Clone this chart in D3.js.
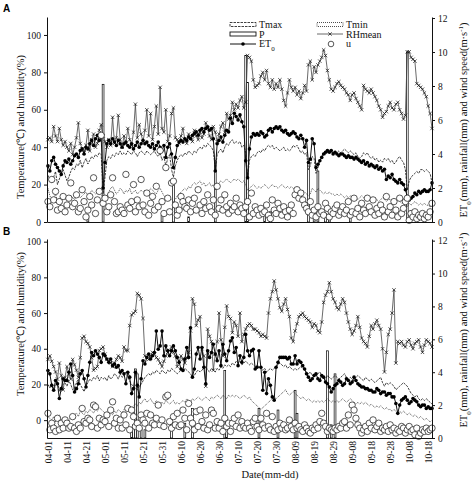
<!DOCTYPE html>
<html>
<head>
<meta charset="utf-8">
<script src="https://cdn.jsdelivr.net/npm/d3@7"></script>
<style>
  body { margin: 0; background: #fff; }
  svg { display: block; font-family: "Liberation Serif", "Times New Roman", serif; }
</style>
</head>
<body>
<svg id="chart" width="474" height="482"></svg>
<script>
// date ticks, every 10 days from 04-01 (day 0) to 10-18 (day 200)
var tickLabels = ["04-01", "04-11", "04-21", "05-01", "05-11", "05-21", "05-31", "06-10",
  "06-20", "06-30", "07-10", "07-20", "07-30", "08-09", "08-19", "08-29", "09-08",
  "09-18", "09-28", "10-08", "10-18"];
var tickDays = [0, 10, 20, 30, 40, 50, 60, 70, 80, 90, 100, 110, 120, 130, 140, 150,
  160, 170, 180, 190, 200];

// ---- panel A ----
var rhA = [44,45,43,51,46,43,50,44,41,43, 40,38,42,36,40,45,53,42,39,37,
  41,49,38,44,47,40,42,49,52,46, 43,40,44,41,56,42,45,57,44,40,
  46,42,50,44,41,48,63,45,52,47, 43,49,60,46,58,44,51,62,47,72,
  50,48,60,43,46,58,61,45,44,42, 46,50,44,42,47,45,43,49,46,44,
  48,45,47,53,50,46,44,51,48,43, 47,51,53,48,58,55,57,64,60,63,
  61,65,67,61,64,89,88,86,76,72, 73,74,78,80,76,81,74,72,76,71,
  74,72,76,71,65,62,69,76,72,70, 72,68,70,66,69,73,70,84,86,76,
  83,80,84,86,88,92,89,81,76,71, 70,72,74,75,73,72,71,69,68,65,
  68,69,66,64,62,60,73,71,70,69, 71,69,67,65,62,60,56,58,59,62,
  64,61,60,63,64,60,58,55,57,91, 91,88,87,86,74,73,72,71,69,67,
  62,58,50];
var et0A = [3.3,3.0,3.6,3.8,3.4,3.2,3.0,2.8,3.3,3.6, 3.5,3.7,3.4,3.6,3.9,4.0,3.8,4.2,4.3,4.0,
  4.4,4.3,4.6,4.8,4.5,4.9,5.1,4.8,5.0,2.0, 3.5,4.6,4.8,4.6,4.9,4.7,4.5,4.8,4.6,4.4,
  4.6,4.7,4.5,4.4,4.6,4.3,4.5,4.7,4.4,4.6, 4.8,4.6,4.7,4.5,4.4,4.6,4.3,4.5,4.7,4.4,
  4.2,4.5,3.8,4.4,4.6,4.0,3.2,3.8,4.5,4.7, 4.8,4.7,4.9,4.8,5.0,4.9,5.1,5.2,5.3,5.1,
  5.4,5.5,5.3,5.5,5.6,5.4,5.5,4.9,3.0,4.6, 4.8,5.0,4.7,5.1,5.4,5.3,6.1,5.8,6.4,6.2,
  6.0,6.3,5.9,5.6,3.6,2.6,4.3,5.0,5.2,5.1, 5.2,5.1,5.3,5.2,5.0,5.1,5.4,5.5,5.3,5.5,
  5.6,5.5,5.6,5.4,5.3,5.4,5.2,5.1,5.2,5.3, 5.2,5.0,4.9,5.1,4.9,4.4,4.8,3.5,3.7,4.9,
  4.6,3.2,3.4,3.6,3.8,4.0,4.1,4.2,4.1,4.2, 4.0,4.1,4.0,3.9,4.0,4.0,3.9,3.8,3.9,3.8,
  3.8,3.7,3.8,3.7,3.6,3.5,3.6,3.4,3.5,3.3, 3.4,3.3,3.2,3.3,3.1,3.2,3.0,3.1,2.5,2.7,
  2.6,2.8,2.5,2.4,2.3,2.5,2.3,2.2,1.9,1.5, 1.3,1.4,1.5,1.7,1.6,1.8,1.7,1.8,1.9,1.8,
  1.8,1.9,2.3];
var tmaxA = [25,22,21,24,27,20,23,26,28,25, 22,24,27,29,28,31,30,33,29,32,
  34,31,33,35,34,36,35,37,36,15, 24,33,35,34,36,35,37,36,38,36,
  37,36,38,37,36,38,37,35,37,38, 37,36,38,37,36,37,38,36,35,37,
  33,35,30,34,36,28,24,30,33,35, 36,35,37,36,38,37,36,38,37,39,
  40,39,41,40,42,41,40,38,28,36, 38,39,37,40,42,41,43,44,42,43,
  42,43,40,41,37,24,33,35,36,35, 37,38,37,39,38,40,41,40,41,39,
  40,39,38,39,40,38,39,38,39,41, 40,41,39,37,38,36,37,28,30,35,
  34,26,29,33,35,37,36,37,38,37, 37,38,37,38,37,38,39,38,37,38,
  37,36,37,35,34,35,37,36,37,35, 34,35,33,34,32,33,32,34,33,34,
  32,33,31,32,34,35,33,32,28,17, 22,24,25,26,27,26,28,28,27,28,
  27,26,21];
var tminA = [18,14,12,13,15,11,12,14,13,12, 13,12,14,13,12,14,15,13,14,15,
  16,14,15,17,16,15,16,17,16,12, 10,14,16,18,19,17,15,16,18,17,
  15,17,16,18,15,16,17,15,16,17, 16,17,15,16,18,17,16,15,17,18,
  16,14,13,12,13,12,11,12,14,15, 16,17,18,17,19,18,20,21,20,21,
  22,20,21,19,20,21,19,20,17,19, 21,22,21,22,23,22,21,22,23,22,
  23,22,21,22,20,17,18,19,20,19, 18,19,18,19,20,19,18,19,20,19,
  19,18,19,20,19,18,19,18,19,18, 17,18,17,16,17,16,15,14,15,18,
  17,16,18,17,16,15,16,15,16,15, 15,14,15,14,15,14,13,14,13,14,
  13,14,13,12,13,14,13,12,13,12, 13,12,13,12,11,12,13,12,11,12,
  12,11,12,11,12,11,10,11,10,8, 10,9,10,11,10,9,10,9,10,9,
  9,8,9];
var uA = [1.2,0.9,2.5,1.3,1.8,0.7,1.2,0.8,1.5,0.6, 1.0,1.4,2.3,0.9,1.1,1.6,0.6,0.8,1.9,1.2,
  0.3,0.7,1.5,1.0,2.6,0.5,1.3,1.8,5.1,1.1, 1.4,0.6,0.9,1.6,2.6,1.2,0.5,0.6,0.9,0.7,
  0.5,2.8,1.0,0.8,1.2,2.2,0.6,1.3,0.9,2.5, 1.0,0.6,1.7,0.4,1.1,1.5,0.7,2.1,0.9,4.2,
  1.2,0.5,3.2,1.4,0.6,2.3,2.4,1.0,0.4,0.7, 1.5,1.2,0.9,0.8,1.3,0.6,1.1,1.4,0.7,1.9,
  1.0,0.5,1.2,0.8,1.6,0.9,0.6,1.3,0.4,2.1, 0.8,1.3,0.7,1.6,0.9,0.5,1.1,0.7,0.9,1.4,
  0.6,1.0,0.8,0.5,0.9,1.2,0.3,1.7,0.5,0.9, 0.7,0.4,0.8,0.5,0.6,1.0,0.4,0.2,1.3,0.7,
  0.5,1.1,0.8,0.4,0.9,0.6,0.3,0.7,1.0,0.5, 1.6,1.9,1.4,1.7,1.3,1.0,0.8,0.6,1.2,0.4,
  0.7,0.3,0.9,0.5,0.6,0.4,1.1,0.8,0.3,0.6, 0.5,0.8,1.0,0.4,0.6,0.9,0.5,0.7,1.2,0.4,
  0.6,1.4,0.5,0.8,0.3,1.1,0.7,0.5,1.4,0.9, 0.6,1.3,0.4,0.8,0.5,1.0,0.7,0.3,1.5,0.6,
  0.9,0.4,1.2,0.7,0.3,1.4,0.5,0.8,1.2,1.4, 0.1,0.5,0.3,0.6,0.2,0.4,0.3,0.5,0.2,0.4,
  0.3,0.6,1.1];
var rainDaysA = [21, 29, 60, 66, 74, 88, 104, 105, 114, 117, 137, 140, 142, 146, 148, 159, 189];
var rainA = [0.4, 8.1, 0.4, 2.4, 0.3, 3.6, 9.8, 8.2, 0.5, 0.6, 3.5, 0.8, 3.0, 0.5, 0.4, 0.5, 10.0];

// ---- panel B ----
var rhB = [34,36,33,30,27,23,32,25,17,24, 30,26,23,34,31,28,24,35,46,47,
  44,43,41,35,28,29,30,39,40,41, 37,34,33,32,30,32,34,36,35,33,
  41,39,39,53,59,60,61,71,70,68, 57,36,35,34,36,38,37,35,34,32,
  30,33,36,38,39,41,38,36,30,33, 36,34,32,35,38,50,68,65,53,56,
  58,40,36,19,51,47,44,28,37,44, 60,45,36,52,64,58,57,49,55,53,
  47,60,44,48,51,53,54,53,51,51, 50,49,47,48,47,46,60,68,72,78,
  73,68,63,61,65,68,62,58,46,44, 50,54,58,59,60,58,57,56,55,52,
  54,53,50,49,55,66,70,72,77,72, 68,66,63,62,65,68,66,60,55,51,
  48,50,53,58,52,46,44,43,41,47, 53,51,54,56,53,51,40,27,38,48,
  51,60,73,32,44,43,44,42,41,44, 45,42,40,43,44,45,41,38,42,45,
  44,43,41];
var et0B = [4.1,3.9,3.2,2.9,3.5,3.3,2.4,3.0,3.6,3.5, 3.5,4.0,4.5,3.8,2.8,3.0,3.3,3.9,4.1,3.6,
  3.1,3.8,4.6,5.2,5.0,5.3,5.1,4.9,4.6,5.1, 5.0,4.8,4.6,4.8,4.4,4.5,4.3,4.4,4.0,4.1,
  3.9,3.3,4.0,3.7,2.7,3.0,4.0,3.2,2.5,3.6, 4.7,4.5,4.9,5.1,4.8,5.0,5.2,6.5,5.4,5.6,
  6.5,5.0,5.6,5.3,5.0,5.3,5.6,5.3,4.9,4.6, 4.2,4.1,4.8,5.5,4.9,6.7,3.7,4.2,5.1,5.5,
  4.8,5.5,4.3,3.3,5.3,4.9,5.2,5.7,5.1,4.7, 5.3,4.4,5.7,5.1,4.7,5.3,5.9,6.1,5.2,5.5,
  4.4,5.0,4.6,4.9,6.3,5.3,5.0,5.3,5.4,4.2, 4.3,5.3,4.3,2.9,4.0,2.7,3.6,3.2,2.5,2.3,
  4.3,4.6,4.9,4.9,4.9,4.9,4.8,4.9,4.5,4.5, 5.0,4.5,4.7,4.6,4.4,4.2,3.9,3.7,3.5,3.6,
  3.8,3.9,3.6,3.5,3.8,3.7,3.4,3.3,3.1,2.8, 3.0,3.2,3.3,3.5,3.4,3.2,3.3,3.6,3.5,3.3,
  3.4,3.7,3.5,3.3,3.2,3.1,3.1,3.0,3.0,2.9, 2.9,2.8,2.8,3.0,2.9,2.7,2.8,2.8,2.6,2.7,
  2.7,2.5,2.5,2.1,1.5,2.0,2.3,2.4,2.5,2.3, 2.1,2.2,2.4,2.3,2.2,2.0,1.9,2.0,2.0,1.8,
  1.9,1.8,1.8];
var tmaxB = [20,18,21,17,19,22,16,18,20,21, 19,22,20,17,18,21,23,20,18,16,
  19,21,23,22,24,23,25,22,24,23, 24,22,25,23,24,26,25,23,26,24,
  25,27,24,22,20,19,18,17,19,20, 22,24,25,26,25,27,26,28,27,26,
  28,27,26,28,27,29,28,27,26,27, 28,27,29,28,27,26,24,25,27,28,
  27,28,29,30,28,27,29,28,27,29, 28,30,29,31,30,31,30,32,31,33,
  32,33,31,32,33,32,31,32,31,30, 31,30,29,28,29,27,28,29,28,29,
  30,31,32,31,30,31,29,30,29,28, 29,28,29,30,29,28,27,26,27,25,
  26,25,26,27,25,24,23,25,24,23, 24,25,24,23,24,25,26,24,23,24,
  23,22,24,25,24,23,22,24,23,22, 23,22,21,22,23,24,21,19,21,20,
  21,20,19,17,18,19,20,21,20,19, 17,15,14,13,14,12,11,12,11,12,
  11,10,9];
var tminB = [2,1,0,2,-1,1,3,0,-1,1, 0,-1,2,1,3,4,2,5,4,3,
  5,4,6,5,4,6,5,7,6,5, 4,3,5,4,3,5,4,6,5,4,
  6,5,7,8,7,8,9,8,10,9, 11,12,10,11,12,10,9,11,10,9,
  10,9,11,10,9,10,11,9,10,9, 10,11,10,12,11,10,12,11,12,13,
  12,11,12,13,12,11,13,12,13,14, 13,12,14,13,12,14,13,14,13,14,
  13,12,13,14,13,12,13,11,10,9, 8,7,6,7,8,9,10,11,12,13,
  12,13,14,15,16,17,15,14,15,16, 15,14,13,12,13,12,11,12,11,10,
  11,10,11,10,11,10,11,12,11,10, 11,10,11,10,11,12,11,10,11,12,
  11,10,9,10,9,10,9,10,9,8, 9,8,7,8,7,8,7,6,7,6,
  6,5,6,5,4,5,4,5,4,3, 4,3,2,3,2,1,2,1,0,1,
  0,-1,0];
var uB = [1.5,0.5,0.9,0.6,0.4,1.2,0.5,0.9,0.6,1.1, 0.9,0.6,0.7,1.3,0.6,0.4,0.8,0.6,1.8,1.0,
  0.9,1.2,1.1,0.7,2.0,1.9,0.6,1.2,0.8,1.1, 1.0,1.4,0.7,1.7,2.2,0.9,1.2,0.6,1.1,0.6,
  1.4,0.8,1.8,0.5,1.7,1.3,0.7,0.9,0.6,1.4, 1.1,0.9,1.5,0.6,1.4,0.9,0.8,1.2,2.0,0.8,
  1.1,0.7,2.5,2.6,1.0,0.6,1.3,0.8,1.5,0.7, 0.8,1.7,1.2,0.5,2.1,1.2,0.9,0.5,1.6,0.7,
  1.7,1.0,0.6,1.4,0.5,0.8,1.7,1.5,0.6,1.0, 0.6,0.9,0.4,1.2,0.7,0.9,0.4,0.9,1.2,0.7,
  1.4,0.6,1.0,0.7,0.6,0.9,0.6,0.4,1.0,1.2, 0.7,0.5,1.2,0.8,0.6,1.5,0.7,0.5,1.3,0.4,
  0.7,0.5,0.9,0.6,0.8,0.5,0.6,1.1,0.7,0.5, 0.9,0.6,0.7,0.5,0.4,0.8,0.6,0.4,0.3,0.6,
  0.5,0.8,0.6,1.0,1.5,0.9,0.7,0.4,0.6,0.5, 0.4,0.6,0.5,0.7,0.6,0.9,1.0,0.6,1.4,0.8,
  2.0,1.7,1.2,0.8,0.6,0.3,0.5,0.7,0.4,0.9, 0.6,1.1,0.5,0.7,0.9,0.4,0.6,0.5,0.7,0.4,
  0.8,0.5,0.6,0.3,0.5,0.4,0.7,0.6,0.3,0.5, 0.7,0.4,0.5,0.2,0.6,0.1,0.3,0.5,0.4,0.6,
  0.4,0.5,0.6];
var rainDaysB = [44, 45, 46, 47, 49, 51, 65, 72, 76, 93, 94, 111, 121, 130, 131, 147, 149, 151];
var rainB = [0.5, 0.8, 4.2, 3.9, 0.6, 0.5, 0.9, 0.9, 1.8, 4.1, 1.0, 1.8, 1.7, 2.9, 1.5, 5.3, 0.8, 3.9];

var leftTicks = [0, 20, 40, 60, 80, 100];
var rightTicks = [0, 2, 4, 6, 8, 10, 12];

var svg = d3.select("#chart");
var x = d3.scaleLinear().domain([-0.5, 202]).range([47, 432]);
var crossPath = "M-1.7,-1.7L1.7,1.7M-1.7,1.7L1.7,-1.7";

function styleAxis(sel) {
  sel.attr("font-family", null).attr("font-size", null);
  sel.selectAll("text").style("font-size", "9.5px").attr("fill", "#111");
  sel.selectAll("path, line").attr("stroke", "#111");
}

function drawPanel(p) {
  var g = svg.append("g");
  var yL = d3.scaleLinear().domain(p.leftDomain).range([p.bottom, p.top]);
  var yR = d3.scaleLinear().domain(p.rightDomain).range([p.bottom, p.top]);

  // rainfall bars
  g.append("g").selectAll("rect").data(p.rainDays).join("rect")
    .attr("x", function(d) { return x(d) - 0.9; })
    .attr("width", 1.8)
    .attr("y", function(d, i) { return yR(p.rain[i]); })
    .attr("height", function(d, i) { return yR(0) - yR(p.rain[i]); })
    .attr("fill", "#fff").attr("stroke", "#000").attr("stroke-width", 0.7);

  function seriesLine(vals, scale) {
    return d3.line().x(function(d, i) { return x(i); }).y(function(d) { return scale(d); })(vals);
  }

  g.append("path").attr("d", seriesLine(p.tmin, yL))
    .attr("fill", "none").attr("stroke", "#222").attr("stroke-width", 0.8)
    .attr("stroke-dasharray", "1,1");
  g.append("path").attr("d", seriesLine(p.tmax, yL))
    .attr("fill", "none").attr("stroke", "#111").attr("stroke-width", 0.8)
    .attr("stroke-dasharray", "2.5,1");

  // RHmean
  g.append("path").attr("d", seriesLine(p.rh, yL))
    .attr("fill", "none").attr("stroke", "#444").attr("stroke-width", 0.8);
  g.append("g").selectAll("path").data(p.rh).join("path")
    .attr("transform", function(d, i) { return "translate(" + x(i) + "," + yL(d) + ")"; })
    .attr("d", crossPath).attr("stroke", "#111").attr("stroke-width", 0.7);

  // ET0
  g.append("path").attr("d", seriesLine(p.et0, yR))
    .attr("fill", "none").attr("stroke", "#111").attr("stroke-width", 1);
  g.append("g").selectAll("circle").data(p.et0).join("circle")
    .attr("cx", function(d, i) { return x(i); })
    .attr("cy", function(d) { return yR(d); })
    .attr("r", 1.8).attr("fill", "#000");

  // wind speed
  g.append("g").selectAll("circle").data(p.u).join("circle")
    .attr("cx", function(d, i) { return x(i); })
    .attr("cy", function(d) { return yR(d); })
    .attr("r", 3.2).attr("fill", "#fff").attr("stroke", "#111").attr("stroke-width", 0.7);

  // axes
  g.append("g").attr("transform", "translate(47,0)")
    .call(d3.axisLeft(yL).tickValues(leftTicks).tickSize(3).tickSizeOuter(0).tickPadding(3))
    .call(styleAxis);
  g.append("g").attr("transform", "translate(432,0)")
    .call(d3.axisRight(yR).tickValues(rightTicks).tickSize(3).tickSizeOuter(0).tickPadding(3))
    .call(styleAxis);

  var xAxis = d3.axisBottom(x).tickSize(0).tickSizeOuter(0);
  if (p.showDates) {
    xAxis.tickValues(tickDays).tickFormat(function(d, i) { return tickLabels[i]; });
  } else {
    xAxis.tickValues([]);
  }
  var xg = g.append("g").attr("transform", "translate(0," + p.bottom + ")").call(xAxis).call(styleAxis);
  xg.selectAll("text")
    .attr("transform", "rotate(-90)")
    .attr("x", -3).attr("y", 0).attr("dy", "0.35em")
    .style("text-anchor", "end");

  // axis titles
  g.append("text")
    .attr("transform", "translate(24," + p.leftTitleY + ") rotate(-90)")
    .attr("text-anchor", "middle").style("font-size", "10.5px").attr("fill", "#111")
    .text("Temperature(\u2103) and humidity(%)");
  var rt = g.append("text")
    .attr("transform", "translate(467," + p.rightTitleY + ") rotate(-90)")
    .attr("text-anchor", "middle").style("font-size", "10.5px").attr("fill", "#111");
  rt.append("tspan").text("ET");
  rt.append("tspan").attr("baseline-shift", "sub").style("font-size", "7px").text("0");
  rt.append("tspan").text("(mm), rainfall(mm) and wind speed(m\u00b7s");
  rt.append("tspan").attr("baseline-shift", "super").style("font-size", "7px").text("-1");
  rt.append("tspan").text(")");

  g.append("text").attr("x", 3).attr("y", p.letterY)
    .style("font-family", "'Liberation Sans', Arial, sans-serif")
    .style("font-weight", "bold").style("font-size", "10px").text(p.letter);
}

drawPanel({
  letter: "A", letterY: 12, top: 17, bottom: 222,
  leftDomain: [0, 109.6], rightDomain: [0, 12.06],
  rh: rhA, et0: et0A, tmax: tmaxA, tmin: tminA, u: uA, rainDays: rainDaysA, rain: rainA,
  leftTitleY: 127, rightTitleY: 120, showDates: false
});
drawPanel({
  letter: "B", letterY: 235, top: 239, bottom: 438,
  leftDomain: [-10, 101.5], rightDomain: [0, 12.1],
  rh: rhB, et0: et0B, tmax: tmaxB, tmin: tminB, u: uB, rainDays: rainDaysB, rain: rainB,
  leftTitleY: 324, rightTitleY: 330, showDates: true
});

// x axis title
svg.append("text").attr("x", 270).attr("y", 478).attr("text-anchor", "middle")
  .style("font-size", "10.5px").attr("fill", "#111").text("Date(mm-dd)");

// legend
var legend = svg.append("g").style("font-size", "10px").attr("fill", "#111");
legend.append("rect").attr("x", 230).attr("y", 22.5).attr("width", 26).attr("height", 4)
  .attr("fill", "none").attr("stroke", "#111").attr("stroke-width", 0.8).attr("stroke-dasharray", "2.5,1");
legend.append("text").attr("x", 259).attr("y", 28).text("Tmax");
legend.append("rect").attr("x", 317).attr("y", 22.5).attr("width", 26).attr("height", 4)
  .attr("fill", "none").attr("stroke", "#222").attr("stroke-width", 0.8).attr("stroke-dasharray", "1,1");
legend.append("text").attr("x", 346).attr("y", 28).text("Tmin");
legend.append("rect").attr("x", 230).attr("y", 32).attr("width", 26).attr("height", 4)
  .attr("fill", "#fff").attr("stroke", "#111").attr("stroke-width", 0.9);
legend.append("text").attr("x", 259).attr("y", 37.5).text("P");
legend.append("line").attr("x1", 317).attr("x2", 343).attr("y1", 34).attr("y2", 34)
  .attr("stroke", "#444").attr("stroke-width", 0.8);
legend.append("path").attr("transform", "translate(330,34)").attr("d", crossPath)
  .attr("stroke", "#111").attr("stroke-width", 0.7);
legend.append("text").attr("x", 346).attr("y", 37.5).text("RHmean");
legend.append("line").attr("x1", 230).attr("x2", 256).attr("y1", 44).attr("y2", 44)
  .attr("stroke", "#111").attr("stroke-width", 1);
legend.append("circle").attr("cx", 243).attr("cy", 44).attr("r", 1.8).attr("fill", "#000");
var etLegend = legend.append("text").attr("x", 259).attr("y", 47).attr("fill", "#111");
etLegend.append("tspan").text("ET");
etLegend.append("tspan").attr("baseline-shift", "sub").attr("fill", "#111")
  .style("font-size", "7px").text("0");
legend.append("circle").attr("cx", 331).attr("cy", 44).attr("r", 2.8)
  .attr("fill", "#fff").attr("stroke", "#111").attr("stroke-width", 0.7);
legend.append("text").attr("x", 346).attr("y", 47).text("u");
</script>
</body>
</html>
